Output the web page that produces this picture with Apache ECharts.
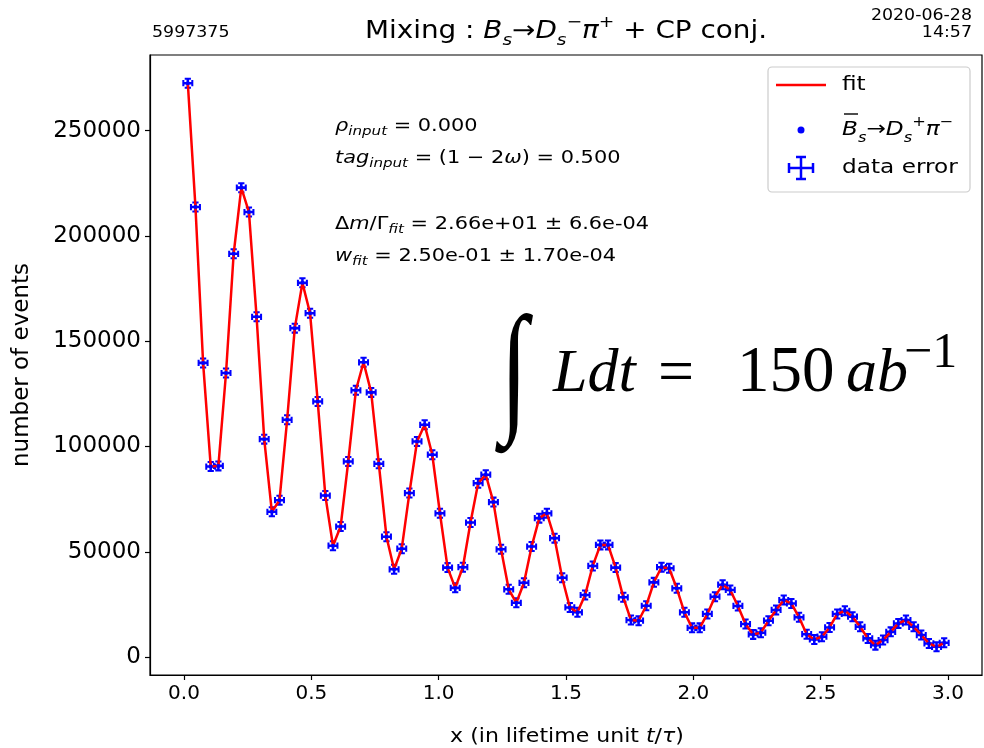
<!DOCTYPE html>
<html>
<head>
<meta charset="utf-8">
<script src="https://cdn.jsdelivr.net/npm/echarts@6/dist/echarts.min.js"></script>
<style>
  html, body { margin: 0; padding: 0; background: #fff; }
  #chart { width: 984px; height: 748px; }
</style>
</head>
<body>
<div id="chart"></div>
<script>
// Bin centres of the decay-time histogram (t / tau)
const lifetimeBins = [
  0.015, 0.045, 0.075, 0.105, 0.135, 0.165, 0.195, 0.225, 0.255, 0.285,
  0.315, 0.345, 0.375, 0.405, 0.435, 0.465, 0.495, 0.525, 0.555, 0.585,
  0.615, 0.645, 0.675, 0.705, 0.735, 0.765, 0.795, 0.825, 0.855, 0.885,
  0.915, 0.945, 0.975, 1.005, 1.035, 1.065, 1.095, 1.125, 1.155, 1.185,
  1.215, 1.245, 1.275, 1.305, 1.335, 1.365, 1.395, 1.425, 1.455, 1.485,
  1.515, 1.545, 1.575, 1.605, 1.635, 1.665, 1.695, 1.725, 1.755, 1.785,
  1.815, 1.845, 1.875, 1.905, 1.935, 1.965, 1.995, 2.025, 2.055, 2.085,
  2.115, 2.145, 2.175, 2.205, 2.235, 2.265, 2.295, 2.325, 2.355, 2.385,
  2.415, 2.445, 2.475, 2.505, 2.535, 2.565, 2.595, 2.625, 2.655, 2.685,
  2.715, 2.745, 2.775, 2.805, 2.835, 2.865, 2.895, 2.925, 2.955, 2.985
];

// Number of events per bin
const eventCounts = [
  272500, 213700, 139700, 90500, 90800, 134900, 191500, 222900, 211300, 161600,
  103500, 69000, 74500, 112700, 156200, 177700, 163300, 121400, 76700, 52900,
  62000, 92900, 126700, 140000, 125700, 91800, 57200, 41700, 51500, 77900,
  102400, 110300, 96100, 68300, 42500, 32900, 42700, 63900, 82600, 86600,
  73600, 51200, 32200, 25800, 35300, 52500, 66000, 68300, 56500, 37700,
  23600, 21300, 29500, 43300, 53300, 53300, 42500, 28400, 17600, 17300,
  24400, 35500, 42700, 42200, 32700, 21300, 13900, 13900, 20500, 28700,
  34400, 31900, 24300, 15700, 10800, 11600, 17300, 22400, 27100, 25500,
  18900, 10900, 8400, 9700, 14100, 20500, 22000, 19200, 14400, 8900,
  5700, 8100, 12000, 16000, 17600, 14400, 10500, 6500, 4900, 6800
];

const xTickValues = [0, 0.5, 1.0, 1.5, 2.0, 2.5, 3.0];
const yTickValues = [0, 50000, 100000, 150000, 200000, 250000];
const xRange = [-0.1335, 3.1335];
const yRange = [-8480, 285880];

const points = lifetimeBins.map((t, i) => [t, eventCounts[i]]);

const BLUE = '#0000ff';
const RED = '#ff0000';
const FONT = 'DejaVu Sans';
const SX = 1.16; // horizontal text stretch

// error-bar cross with caps
const errSymbol = 'path://M4.6,0H7.4V4.6H12V7.4H7.4V12H4.6V7.4H0V4.6H4.6Z M2.6,0H9.4V2.2H2.6Z M2.6,9.8H9.4V12H2.6Z M0,2.6H2.2V9.4H0Z M9.8,2.6H12V9.4H9.8Z';

function annotation(y, text) {
  return {
    type: 'text', x: 335, y: y, z: 10, scaleX: SX,
    style: {
      text: text, fontFamily: FONT, fontSize: 18, fill: '#000',
      verticalAlign: 'middle',
      rich: {
        n: { fontSize: 18, lineHeight: 25, fontFamily: FONT, fill: '#000' },
        i: { fontSize: 18, lineHeight: 25, fontStyle: 'italic', fontFamily: FONT, fill: '#000' },
        s: { fontSize: 13, lineHeight: 13, verticalAlign: 'bottom', fontStyle: 'italic', fontFamily: FONT, fill: '#000' }
      }
    }
  };
}

const chart = echarts.init(document.getElementById('chart'));
chart.setOption({
  animation: false,
  backgroundColor: '#fff',
  textStyle: { fontFamily: FONT },
  grid: {
    left: 150, top: 55, right: 2, bottom: 73,
    show: true, borderColor: '#000', borderWidth: 1.2, backgroundColor: 'transparent'
  },
  xAxis: {
    type: 'value', min: xRange[0], max: xRange[1],
    axisLine: { show: true, onZero: false, lineStyle: { color: '#000', width: 1.2 } },
    splitLine: { show: false },
    axisTick: { show: true, customValues: xTickValues, length: 5, lineStyle: { color: '#000', width: 1.2 } },
    axisLabel: { customValues: xTickValues, formatter: v => v.toFixed(1), fontSize: 20, color: '#000', margin: 9 }
  },
  yAxis: {
    type: 'value', min: yRange[0], max: yRange[1],
    name: 'number of events',
    nameLocation: 'middle', nameGap: 116, nameRotate: 90,
    nameTextStyle: { fontSize: 23, color: '#000' },
    axisLine: { show: true, onZero: false, lineStyle: { color: '#000', width: 1.2 } },
    splitLine: { show: false },
    axisTick: { show: true, customValues: yTickValues, length: 5, lineStyle: { color: '#000', width: 1.2 } },
    axisLabel: { customValues: yTickValues, formatter: v => String(v), fontSize: 23, color: '#000', margin: 9 }
  },
  series: [
    {
      name: 'data error', type: 'scatter', data: points,
      symbol: errSymbol, symbolSize: 11,
      itemStyle: { color: BLUE, opacity: 1 }, z: 2
    },
    {
      name: 'fit', type: 'line', data: points,
      showSymbol: false, symbol: 'none',
      lineStyle: { color: RED, width: 2.5 }, z: 3
    },
    {
      name: 'Bs points', type: 'scatter', data: points,
      symbol: 'circle', symbolSize: 4,
      itemStyle: { color: BLUE, opacity: 1 }, z: 4
    }
  ],
  graphic: [
    // header
    {
      type: 'text', x: 566, y: 32, z: 10, scaleX: SX,
      style: {
        text: 'Mixing : {i|B}{s|s}→{i|D}{s|s}{p|−}{i|π}{p|+} + CP conj.',
        fontFamily: FONT, fontSize: 24, fill: '#000', align: 'center', verticalAlign: 'middle',
        rich: {
          i: { fontSize: 24, lineHeight: 34, fontStyle: 'italic', fontFamily: FONT, fill: '#000' },
          s: { fontSize: 16, lineHeight: 16, verticalAlign: 'bottom', fontStyle: 'italic', fontFamily: FONT, fill: '#000' },
          p: { fontSize: 16, lineHeight: 16, verticalAlign: 'top', fontFamily: FONT, fill: '#000' }
        }
      }
    },
    { type: 'text', x: 152, y: 33, z: 10, scaleX: SX, style: { text: '5997375', fontFamily: FONT, fontSize: 15, fill: '#000', verticalAlign: 'middle' } },
    { type: 'text', x: 972, y: 16, z: 10, scaleX: SX, style: { text: '2020-06-28', fontFamily: FONT, fontSize: 15, fill: '#000', align: 'right', verticalAlign: 'middle' } },
    { type: 'text', x: 972, y: 33, z: 10, scaleX: SX, style: { text: '14:57', fontFamily: FONT, fontSize: 15, fill: '#000', align: 'right', verticalAlign: 'middle' } },

    // x-axis title
    {
      type: 'text', x: 567, y: 737, z: 10, scaleX: SX,
      style: {
        text: 'x (in lifetime unit {i|t}/{i|τ})', fontFamily: FONT, fontSize: 19, fill: '#000',
        align: 'center', verticalAlign: 'middle',
        rich: { i: { fontSize: 19, fontStyle: 'italic', fontFamily: FONT, fill: '#000' } }
      }
    },

    // fit annotations
    annotation(126, '{i|ρ}{s|input}{n| = 0.000}'),
    annotation(158, '{i|tag}{s|input}{n| = (1 − 2}{i|ω}{n|) = 0.500}'),
    annotation(224, '{n|Δ}{i|m}{n|/Γ}{s|fit}{n| = 2.66e+01 ± 6.6e-04}'),
    annotation(256, '{i|w}{s|fit}{n| = 2.50e-01 ± 1.70e-04}'),

    // integrated luminosity
    { type: 'text', x: 514, y: 378, z: 10, scaleX: 0.7, style: { text: '∫', fontFamily: 'DejaVu Sans', fontWeight: 200, fontSize: 143, fill: '#000', align: 'center', verticalAlign: 'middle' } },
    { type: 'text', x: 553, y: 375, z: 10, style: { text: 'Ldt', fontFamily: 'Liberation Serif', fontStyle: 'italic', fontSize: 62, fill: '#000', verticalAlign: 'middle' } },
    { type: 'text', x: 658, y: 375, z: 10, style: { text: '=', fontFamily: 'Liberation Serif', fontSize: 64, fill: '#000', verticalAlign: 'middle' } },
    { type: 'text', x: 737, y: 374, z: 10, style: { text: '150', fontFamily: 'Liberation Serif', fontSize: 65, fill: '#000', verticalAlign: 'middle' } },
    { type: 'text', x: 846, y: 375, z: 10, style: { text: 'ab', fontFamily: 'Liberation Serif', fontStyle: 'italic', fontSize: 62, fill: '#000', verticalAlign: 'middle' } },
    { type: 'text', x: 904, y: 354, z: 10, style: { text: '−1', fontFamily: 'Liberation Serif', fontSize: 50, fill: '#000', verticalAlign: 'middle' } },

    // legend
    { type: 'rect', z: 10, shape: { x: 768, y: 67, width: 202, height: 125, r: 4 }, style: { fill: 'rgba(255,255,255,0.85)', stroke: '#cccccc', lineWidth: 1.2 } },
    { type: 'line', z: 11, shape: { x1: 776, y1: 85, x2: 826, y2: 85 }, style: { stroke: RED, lineWidth: 2.5 } },
    { type: 'text', x: 842, y: 85, z: 11, scaleX: SX, style: { text: 'fit', fontFamily: FONT, fontSize: 20, fill: '#000', verticalAlign: 'middle' } },
    { type: 'circle', z: 11, shape: { cx: 801, cy: 130, r: 3.5 }, style: { fill: BLUE } },
    {
      type: 'text', x: 842, y: 130, z: 11, scaleX: SX,
      style: {
        text: '{i|B}{s|s}{n|→}{i|D}{s|s}{p|+}{i|π}{p|−}',
        fontFamily: FONT, fontSize: 20, fill: '#000', verticalAlign: 'middle',
        rich: {
          n: { fontSize: 20, lineHeight: 30, fontFamily: FONT, fill: '#000' },
          i: { fontSize: 20, lineHeight: 30, fontStyle: 'italic', fontFamily: FONT, fill: '#000' },
          s: { fontSize: 14, lineHeight: 14, verticalAlign: 'bottom', fontStyle: 'italic', fontFamily: FONT, fill: '#000' },
          p: { fontSize: 14, lineHeight: 14, verticalAlign: 'top', fontFamily: FONT, fill: '#000' }
        }
      }
    },
    { type: 'line', z: 11, shape: { x1: 844, y1: 114, x2: 858, y2: 114 }, style: { stroke: '#000', lineWidth: 1.4 } },
    { type: 'line', z: 11, shape: { x1: 789, y1: 168, x2: 813, y2: 168 }, style: { stroke: BLUE, lineWidth: 2.5 } },
    { type: 'line', z: 11, shape: { x1: 801, y1: 157, x2: 801, y2: 179 }, style: { stroke: BLUE, lineWidth: 2.5 } },
    { type: 'line', z: 11, shape: { x1: 789, y1: 163, x2: 789, y2: 173 }, style: { stroke: BLUE, lineWidth: 2.5 } },
    { type: 'line', z: 11, shape: { x1: 813, y1: 163, x2: 813, y2: 173 }, style: { stroke: BLUE, lineWidth: 2.5 } },
    { type: 'line', z: 11, shape: { x1: 796, y1: 157, x2: 806, y2: 157 }, style: { stroke: BLUE, lineWidth: 2.5 } },
    { type: 'line', z: 11, shape: { x1: 796, y1: 179, x2: 806, y2: 179 }, style: { stroke: BLUE, lineWidth: 2.5 } },
    { type: 'text', x: 842, y: 168, z: 11, scaleX: SX, style: { text: 'data error', fontFamily: FONT, fontSize: 20, fill: '#000', verticalAlign: 'middle' } }
  ]
});
</script>
</body>
</html>
